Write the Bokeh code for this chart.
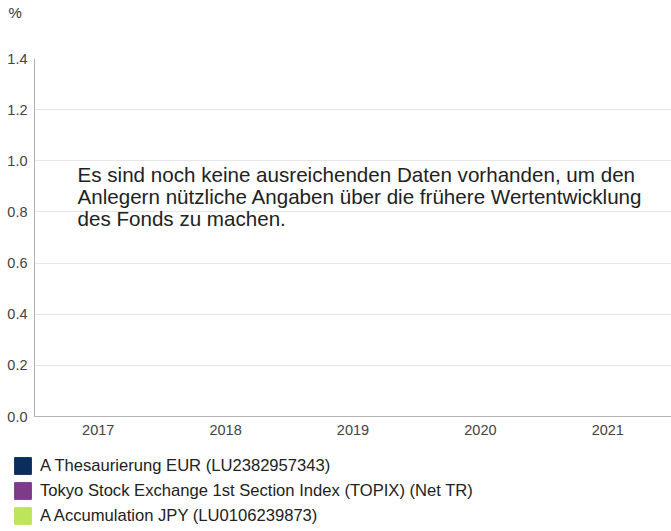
from bokeh.plotting import figure
from bokeh.models import Label, Legend, LegendItem, Range1d, ColumnDataSource, CustomJSTickFormatter, Title
from bokeh.layouts import column
from bokeh.transform import dodge
from bokeh.embed import file_html
from bokeh.resources import INLINE

# ---- data ----
years = ["2017", "2018", "2019", "2020", "2021"]
series_names = [
    "A Thesaurierung EUR (LU2382957343)",
    "Tokyo Stock Exchange 1st Section Index (TOPIX) (Net TR)",
    "A Accumulation JPY (LU0106239873)",
]
series_colors = ["#0b2d5e", "#7d3b8a", "#bde55a"]
# No performance values available yet (missing for every year)
fund_eur_values = [None, None, None, None, None]
index_values = [None, None, None, None, None]
fund_jpy_values = [None, None, None, None, None]
series_values = [fund_eur_values, index_values, fund_jpy_values]
y_ticks = [0.0, 0.2, 0.4, 0.6, 0.8, 1.0, 1.2, 1.4]
note_text = ("Es sind noch keine ausreichenden Daten vorhanden, um den\n"
             "Anlegern nützliche Angaben über die frühere Wertentwicklung\n"
             "des Fonds zu machen.")
unit_text = "%"

FONT = "Liberation Sans"

# ---- chart ----
p = figure(x_range=years, y_range=Range1d(0, 1.4),
           frame_width=637, frame_height=358,
           min_border_left=34, min_border_right=0, min_border_top=58, min_border_bottom=24,
           output_backend="svg", toolbar_location=None)
# spacer between unit title and plot frame
p.add_layout(Title(text=" ", text_font=FONT, text_font_size="15px", standoff=17), "above")
p.add_layout(Title(text=unit_text, text_font=FONT, text_font_size="15px",
                   text_font_style="normal", text_color="#333333",
                   align="left", vertical_align="top", offset=-26, standoff=0), "above")
p.outline_line_color = None
p.xgrid.grid_line_color = None
p.ygrid.grid_line_color = "#e6e6e6"
p.yaxis.ticker = y_ticks
p.yaxis.formatter = CustomJSTickFormatter(code="return tick.toFixed(1);")
for ax in (p.xaxis[0], p.yaxis[0]):
    ax.axis_line_color = "#b3b3b3"
    ax.major_tick_line_color = None
    ax.minor_tick_line_color = None
    ax.major_tick_out = 0
    ax.major_tick_in = 0
    ax.minor_tick_out = 0
    ax.minor_tick_in = 0
    ax.major_label_text_font = FONT
    ax.major_label_text_font_size = "14.5px"
    ax.major_label_text_color = "#444444"
p.yaxis.major_label_standoff = 7
p.xaxis.major_label_standoff = 8

sources = []
offsets = [-0.25, 0.0, 0.25]
for vals, color, off in zip(series_values, series_colors, offsets):
    src = ColumnDataSource(dict(x=years, top=[float("nan") if v is None else v for v in vals]))
    sources.append(src)
    p.vbar(x=dodge("x", off, range=p.x_range), top="top", width=0.22, source=src,
           fill_color=color, line_color=color)

p.add_layout(Label(x=43, y=254, x_units="screen", y_units="screen", text=note_text,
                   text_font=FONT, text_font_size="20.6px", text_color="#222222",
                   text_baseline="top", text_line_height=0.97))

# ---- legend panel ----
lg = figure(width=671, height=90, x_range=years, y_range=Range1d(0, 1.4),
            x_axis_location=None, y_axis_location=None,
            min_border=0, output_backend="svg", toolbar_location=None)
lg.grid.visible = False
lg.outline_line_color = None
for fig in (p, lg):
    if "frame_align" in fig.properties():
        fig.frame_align = False
items = []
for name, color, src in zip(series_names, series_colors, sources):
    r = lg.vbar(x="x", top="top", width=0.8, source=src, fill_color=color, line_color=color)
    items.append(LegendItem(label=name, renderers=[r]))
legend = Legend(items=items, location=(12, 4), orientation="vertical",
                glyph_width=21, glyph_height=21, label_height=21, spacing=4,
                label_standoff=7, padding=0, margin=0,
                border_line_color=None, background_fill_alpha=0,
                label_text_font=FONT, label_text_font_size="16.6px",
                label_text_color="#222222")
lg.add_layout(legend, "center")

layout = column(p, lg, spacing=0)
open("out.html", "w").write(file_html(layout, INLINE))
